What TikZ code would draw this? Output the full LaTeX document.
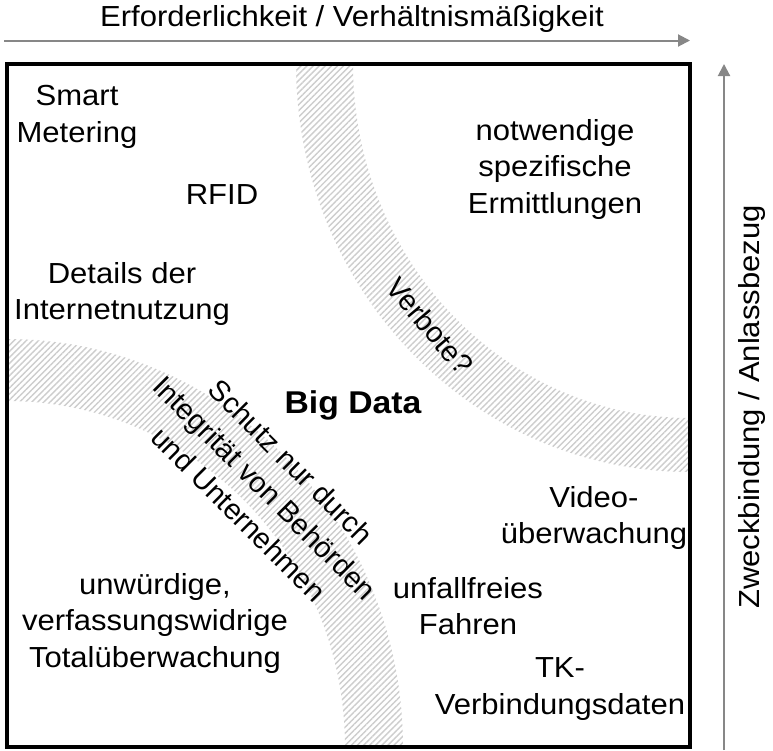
\documentclass[tikz,border=0pt]{standalone}
\usepackage{fontspec}
\setmainfont{Liberation Sans}[FakeStretch=1.07]
\newfontfamily\narrowsans{Liberation Sans}
\usetikzlibrary{arrows.meta,patterns.meta}
\definecolor{axisgray}{HTML}{878787}
\definecolor{hatchgray}{HTML}{CDCDCD}
\begin{document}
\begin{tikzpicture}[x=1pt,y=-1pt,
  lbl/.style={font=\fontsize{29}{36.5}\selectfont, align=center, inner sep=0pt},
  slanted/.style={font=\narrowsans\fontsize{29}{37}\selectfont, align=center, inner sep=0pt},
  axis/.style={draw=axisgray, line width=2pt, -{Triangle[length=12pt,width=12pt]}},
  band/.style={pattern={Lines[angle=45,distance=4.3pt,line width=1.4pt]}, pattern color=hatchgray, even odd rule}]
\useasboundingbox (0,0) rectangle (773,750);

% hatched bands, clipped to the frame
\begin{scope}
  \clip (7,64) rectangle (690,747);
  \fill[band] (690,64) ellipse [x radius=394, y radius=408]
              (690,64) ellipse [x radius=337, y radius=354];
  \fill[band] (7,747) ellipse [x radius=396, y radius=408]
              (7,747) ellipse [x radius=338, y radius=346];
\end{scope}

% frame
\draw[line width=4pt] (7,64) rectangle (690,747);

% axes
\coordinate (xs) at (4,40.5);
\coordinate (xe) at (690,40.5);
\coordinate (ys) at (724,750);
\coordinate (ye) at (724,64);
\draw[axis] (xs) -- (xe);
\draw[axis] (ys) -- (ye);
\node[lbl] (xlabel) at (352,19) {Erforderlichkeit / Verhältnismäßigkeit};
\node[lbl, rotate=90] (ylabel) at (752,407) {Zweckbindung / Anlassbezug};

% field labels
\node[lbl] (smart) at (77,117) {Smart\\Metering};
\node[lbl] (rfid) at (222,195) {RFID};
\node[lbl] (inet) at (122,294) {Details der\\Internetnutzung};
\node[lbl] (ermitt) at (555,169) {notwendige\\spezifische\\Ermittlungen};
\node[slanted, rotate=-50] (verbote) at (430,326) {Verbote?};
\node[lbl, font=\fontsize{31.5}{36.5}\selectfont\bfseries] (bigdata) at (353,405) {Big Data};
\node[slanted, rotate=-45] (schutz) at (265,488) {Schutz nur durch\\Integrität von Behörden\\und Unternehmen};
\node[lbl] (video) at (594,518) {Video-\\überwachung};
\node[lbl] (fahren) at (468,606) {unfallfreies\\Fahren};
\node[lbl] (total) at (155,623) {unwürdige,\\verfassungswidrige\\Totalüberwachung};
\node[lbl] (tk) at (560,689) {TK-\\Verbindungsdaten};
\end{tikzpicture}
\end{document}
